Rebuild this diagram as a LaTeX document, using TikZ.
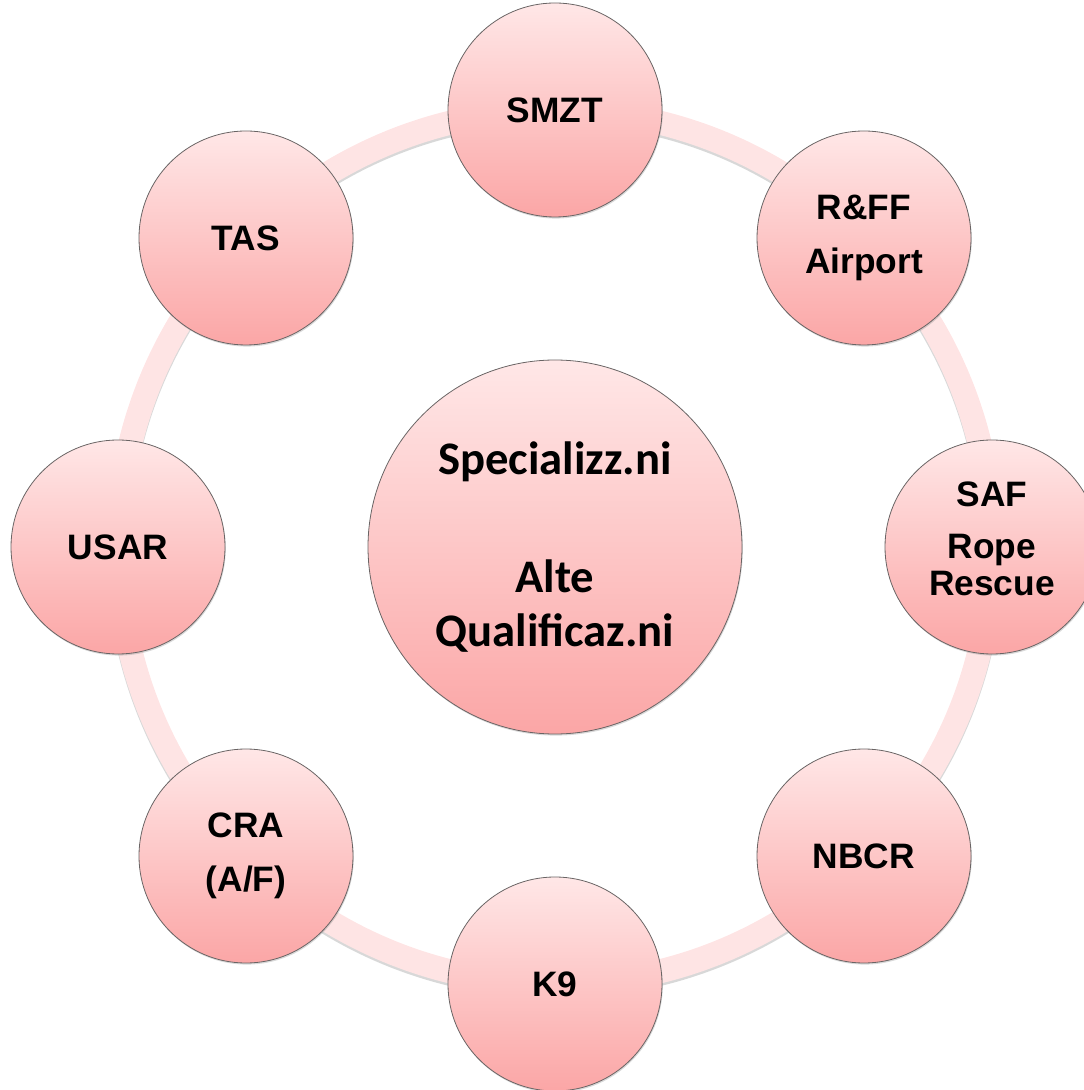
\documentclass[tikz,border=0pt]{standalone}
\usepackage{fontspec}
\setmainfont{Liberation Sans}
\newfontfamily\calibfont{Carlito}
\usetikzlibrary{shadows}
\definecolor{ringpink}{RGB}{254,228,228}
\definecolor{toppink}{RGB}{255,231,231}
\definecolor{botpink}{RGB}{251,166,166}
\definecolor{rimgray}{RGB}{105,100,100}

\begin{document}
\begin{tikzpicture}[x=0.75pt,y=0.75pt,
  ball/.style={circle,draw=rimgray,line width=0.6pt,top color=toppink,bottom color=botpink,
    minimum size=160.5pt,inner sep=0pt,align=center,
    font=\bfseries\fontsize{26.5}{27.75}\selectfont,
    drop shadow={opacity=0.3,shadow xshift=0.6pt,shadow yshift=-1.2pt}}]
\useasboundingbox (0,0) rectangle (1084,1090);
\coordinate (O) at (555,543);
\coordinate (Os) at (555,540.5);
% ring behind the circles
\draw[line width=18pt,black!30,opacity=.5] (Os) circle (437);
\draw[line width=18pt,ringpink] (O) circle (437);

\draw (O) node[ball,minimum size=280.5pt,font=\calibfont\bfseries\fontsize{35}{40.5}\selectfont] (SPEC) {Specializz.ni\\[48pt]Alte\\Qualificaz.ni}
  +(90:437) node[ball] (SMZT) {SMZT}
  +(45:437) node[ball] (RFF) {R\&FF\\[13pt]Airport}
  +(0:437) node[ball] (SAF) {SAF\\[11pt]Rope\\Rescue\\[-15pt]\mbox{}}
  +(-45:437) node[ball] (NBCR) {NBCR}
  +(-90:437) node[ball] (K9) {K9}
  +(-135:437) node[ball] (CRA) {CRA\\[13pt](A/F)}
  +(180:437) node[ball] (USAR) {USAR}
  +(135:437) node[ball] (TAS) {TAS};
\end{tikzpicture}
\end{document}
